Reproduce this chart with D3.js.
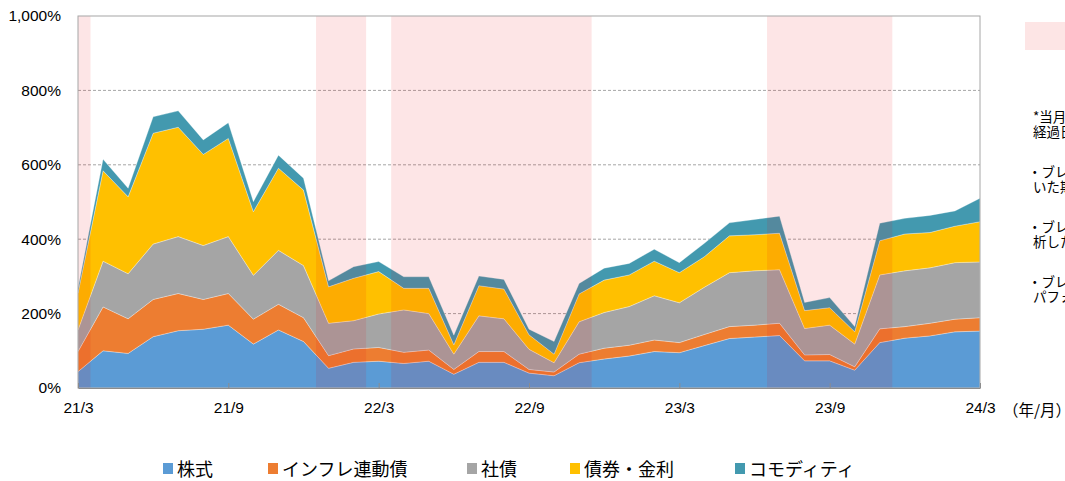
<!DOCTYPE html>
<html>
<head>
<meta charset="utf-8">
<script src="https://cdn.jsdelivr.net/npm/d3@7"></script>
<style>
  body { margin: 0; background: #fff; overflow: hidden; }
  svg { display: block; font-family: "Noto Sans CJK JP", "Noto Sans", sans-serif; }
  .tick text { fill: #000; font-size: 15.5px; }
  .note { font-size: 13.5px; fill: #000; }
</style>
</head>
<body>
<svg id="chart" width="1065" height="481"></svg>
<script>
// months on the x axis (年/月)
const months = [
  "21/3","21/4","21/5","21/6","21/7","21/8","21/9","21/10","21/11","21/12","22/1","22/2",
  "22/3","22/4","22/5","22/6","22/7","22/8","22/9","22/10","22/11","22/12","23/1","23/2",
  "23/3","23/4","23/5","23/6","23/7","23/8","23/9","23/10","23/11","23/12","24/1","24/2","24/3"
];
const tickMonths = ["21/3","21/9","22/3","22/9","23/3","23/9","24/3"];
const yTicks = [0, 200, 400, 600, 800, 1000];

const seriesNames = ["株式", "インフレ連動債", "社債", "債券・金利", "コモディティ"];
const colors = ["#5B9BD5", "#ED7D31", "#A5A5A5", "#FFC000", "#4399AF"];

// values in %
const stocks    = [44,100,93,138,154,158,169,118,156,125,53,69,72,66,72,37,69,69,40,33,68,78,86,98,95,114,133,137,141,73,73,48,122,134,140,151,153];
const inflation = [54,118,93,100,100,80,85,67,69,64,34,36,37,30,30,13,29,29,10,10,23,29,29,31,27,30,32,32,33,16,17,9,37,31,34,34,36];
const corporate = [58,123,121,149,153,145,153,118,145,140,87,76,90,114,98,41,96,88,54,25,87,96,104,119,107,127,145,146,144,71,79,61,145,150,149,152,150];
const bonds     = [99,243,207,298,294,245,264,171,221,203,98,114,114,58,68,25,81,80,39,23,75,87,85,93,81,82,99,97,98,48,47,33,92,99,95,98,108];
const commodity = [13,31,23,44,44,39,42,27,35,32,16,31,27,31,31,26,26,26,15,34,28,32,31,32,27,36,35,41,46,22,27,14,47,42,46,41,63];

// shaded periods (first and last month inside each band)
const shadeFrom = ["21/3", "22/1", "22/4", "23/7"];
const shadeTo   = ["21/3", "22/2", "22/11", "23/11"];

// notes at the right edge (cut off by the window)
const noteLines = [
  ["*当月は", "経過日数"],
  ["・ブレイク", "いた期間"],
  ["・ブレイク", "析した"],
  ["・ブレイク", "パフォー"]
];

const svg = d3.select("#chart");
const plotLeft = 78, plotRight = 980, plotTop = 16, plotBottom = 388;

const x = d3.scalePoint().domain(months).range([plotLeft, plotRight]);
const y = d3.scaleLinear().domain([0, 1000]).range([plotBottom, plotTop]);
const step = x.step();

const table = months.map((m, i) => ({
  month: m,
  [seriesNames[0]]: stocks[i],
  [seriesNames[1]]: inflation[i],
  [seriesNames[2]]: corporate[i],
  [seriesNames[3]]: bonds[i],
  [seriesNames[4]]: commodity[i]
}));
const stacked = d3.stack().keys(seriesNames)(table);

// clip for the plot
svg.append("clipPath").attr("id", "plotClip")
  .append("rect").attr("x", plotLeft).attr("y", plotTop)
  .attr("width", plotRight - plotLeft).attr("height", plotBottom - plotTop);

// gridlines
svg.append("g")
  .selectAll("line")
  .data(yTicks.filter(d => d > 0 && d < 1000))
  .join("line")
  .attr("x1", plotLeft).attr("x2", plotRight)
  .attr("y1", d => y(d)).attr("y2", d => y(d))
  .attr("stroke", "#A6A6A6")
  .attr("stroke-dasharray", "3,2");

// areas
const area = d3.area()
  .x((d, i) => x(months[i]))
  .y0(d => y(d[0]))
  .y1(d => y(d[1]));

svg.append("g")
  .selectAll("path")
  .data(stacked)
  .join("path")
  .attr("d", area)
  .attr("fill", (d, i) => colors[i])
  .attr("stroke", "#fff")
  .attr("stroke-opacity", 0.5)
  .attr("stroke-width", 0.6);

// shaded periods, drawn over the areas
svg.append("g")
  .attr("clip-path", "url(#plotClip)")
  .selectAll("rect")
  .data(shadeFrom.map((s, i) => [s, shadeTo[i]]))
  .join("rect")
  .attr("x", d => x(d[0]) - step / 2)
  .attr("width", d => x(d[1]) - x(d[0]) + step)
  .attr("y", plotTop)
  .attr("height", plotBottom - plotTop)
  .attr("fill", "rgb(238,0,8)")
  .attr("fill-opacity", 0.1);

// frame
svg.append("rect")
  .attr("x", plotLeft).attr("y", plotTop)
  .attr("width", plotRight - plotLeft).attr("height", plotBottom - plotTop)
  .attr("fill", "none")
  .attr("stroke", "#A6A6A6");

// y axis
const yAxis = svg.append("g")
  .attr("transform", `translate(${plotLeft},0)`)
  .call(d3.axisLeft(y).tickValues(yTicks).tickSize(0).tickPadding(17)
    .tickFormat(d => d3.format(",")(d) + "%"));
yAxis.select(".domain").remove();

// x axis
const xAxis = svg.append("g")
  .attr("transform", `translate(0,${plotBottom})`)
  .call(d3.axisBottom(x).tickValues(tickMonths).tickSizeInner(-5).tickSizeOuter(0).tickPadding(14));
xAxis.select(".domain").attr("stroke", "#8C8C8C");
xAxis.selectAll(".tick line").attr("stroke", "#8C8C8C");

svg.append("text")
  .attr("x", 1003).attr("y", 416)
  .attr("font-size", 15.5)
  .text("（年/月）");

// legend
const legendX = [163, 268, 467, 570, 735];
const legend = svg.append("g")
  .selectAll("g")
  .data(seriesNames)
  .join("g")
  .attr("transform", (d, i) => `translate(${legendX[i]},469)`);
legend.append("rect")
  .attr("x", 0).attr("y", -6)
  .attr("width", 10).attr("height", 11)
  .attr("fill", (d, i) => colors[i]);
legend.append("text")
  .attr("x", 14).attr("y", 6.5)
  .attr("font-size", 18)
  .text(d => d);

svg.append("rect")
  .attr("x", 1025).attr("y", 22)
  .attr("width", 60).attr("height", 28)
  .attr("fill", "#FDE5E5");

const noteTop = [117, 172, 227, 282];
noteLines.forEach((lines, i) => {
  lines.forEach((t, j) => {
    svg.append("text")
      .attr("class", "note")
      .attr("x", t.startsWith("・") ? 1028 : 1033)
      .attr("y", noteTop[i] + 5 + j * 15)
      .text(t);
  });
});
</script>
</body>
</html>
